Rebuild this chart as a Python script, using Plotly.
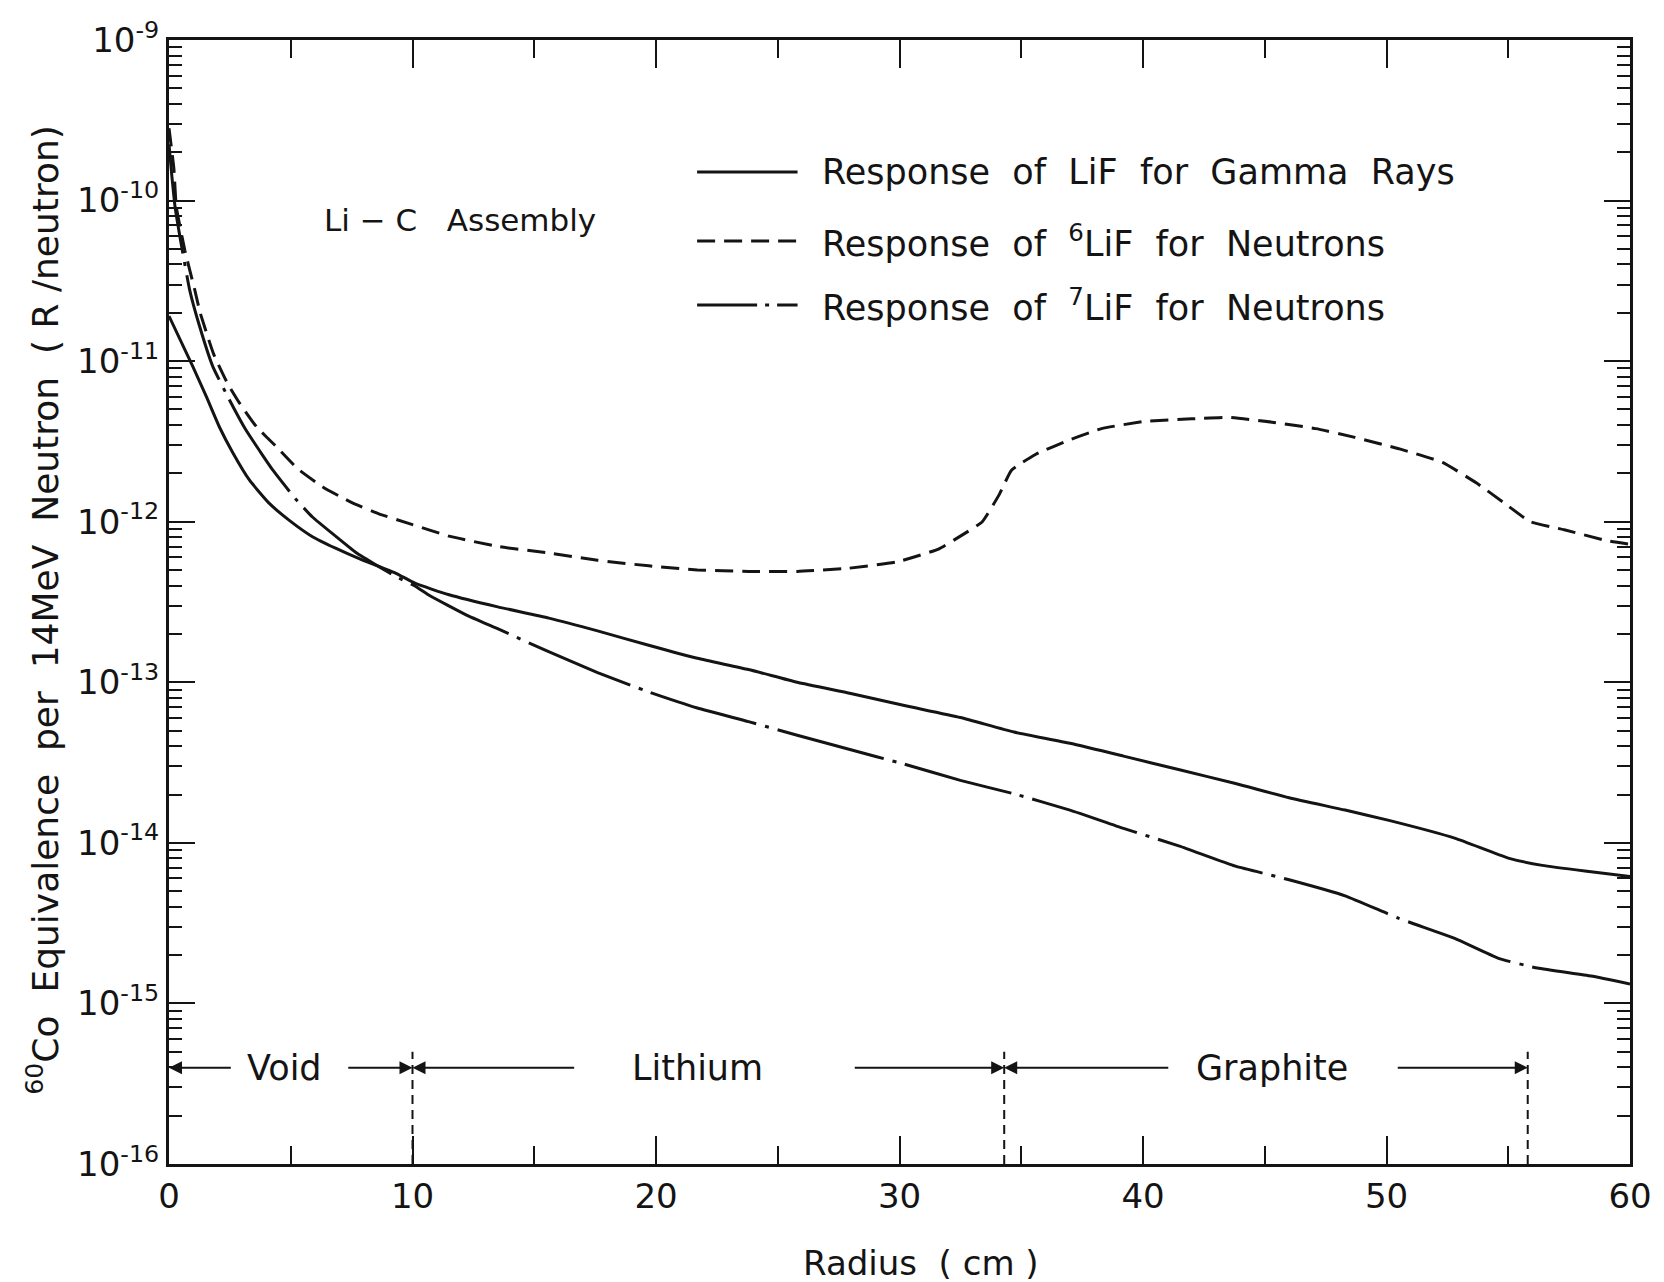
import plotly.graph_objects as go

# ---------------- data ----------------
radius_gamma = [0, 0.98, 1.53, 2.07, 2.62, 3.30, 4.12, 4.94, 5.89, 6.84, 7.93, 9.30, 10.1,
                11.5, 13.5, 15.6, 17.6, 19.7, 21.7, 23.8, 25.8, 28.0, 30.2, 32.5, 34.7, 37.0,
                39.2, 41.5, 43.8, 46.0, 48.3, 50.1, 52.8, 55.0, 56.4, 58.4, 60]
resp_gamma = [1.91e-11, 9.25e-12, 6.03e-12, 3.89e-12, 2.69e-12, 1.82e-12, 1.30e-12, 1.02e-12,
              8.07e-13, 6.84e-13, 5.78e-13, 4.79e-13, 4.14e-13, 3.51e-13, 2.95e-13,
              2.51e-13, 2.09e-13, 1.70e-13, 1.41e-13, 1.20e-13, 1.00e-13, 8.51e-14, 7.16e-14,
              6.03e-14, 4.90e-14, 4.17e-14, 3.47e-14, 2.85e-14, 2.34e-14, 1.91e-14, 1.60e-14,
              1.38e-14, 1.07e-14, 8.04e-15, 7.24e-15, 6.61e-15, 6.17e-15]

radius_li6 = [0, 0.2, 0.3, 0.65, 1.06, 1.28, 1.83, 2.41, 2.89, 3.60, 4.39, 5.28, 6.33, 7.49,
              8.62, 9.84, 11.5, 13.54, 15.59, 17.6, 19.7, 21.7, 23.8, 25.8,
              27.9, 29.9, 31.6, 32.5, 33.4, 34.1, 34.6, 35.6, 37.0, 38.3, 40.1, 42.0, 43.5,
              45.3, 47.1, 48.7, 50.5, 52.3, 53.7, 54.8, 55.9, 57.3, 59.1, 60]
resp_li6 = [2.82e-10, 1.58e-10, 9.12e-11, 4.90e-11, 2.77e-11, 2.00e-11, 1.11e-11, 7.24e-12,
            5.50e-12, 3.89e-12, 2.95e-12, 2.14e-12, 1.64e-12, 1.32e-12, 1.12e-12, 9.77e-13,
            8.13e-13, 7.00e-13, 6.38e-13, 5.75e-13, 5.31e-13,
            5.01e-13, 4.90e-13, 4.90e-13, 5.13e-13, 5.62e-13, 6.76e-13, 8.13e-13, 1.00e-12,
            1.48e-12, 2.09e-12, 2.63e-12, 3.24e-12, 3.80e-12, 4.22e-12, 4.37e-12, 4.47e-12,
            4.17e-12, 3.80e-12, 3.35e-12, 2.85e-12, 2.34e-12, 1.74e-12, 1.32e-12, 1.00e-12,
            8.91e-13, 7.59e-13, 7.24e-13]

radius_li7 = [0, 0.12, 0.25, 0.57, 0.85, 1.25, 1.80, 2.48, 3.16, 3.84, 4.25, 5.21, 5.89, 6.84,
              7.66, 8.62, 9.30, 10.1, 10.7, 12.2,
              13.54, 15.59, 17.6, 19.7, 21.7, 23.8, 25.8, 28.0, 30.2, 32.5, 34.7, 37.0, 39.2,
              41.5, 43.8, 46.0, 48.3, 50.5, 52.8, 54.6, 56.2, 58.4, 60]
resp_li7 = [2.24e-10, 1.41e-10, 9.12e-11, 4.68e-11, 2.77e-11, 1.66e-11, 9.25e-12, 5.75e-12,
            3.72e-12, 2.60e-12, 2.11e-12, 1.38e-12, 1.07e-12, 8.13e-13, 6.46e-13, 5.25e-13,
            4.57e-13, 3.98e-13, 3.47e-13, 2.63e-13, 2.14e-13, 1.55e-13,
            1.15e-13, 8.71e-14, 6.92e-14, 5.69e-14, 4.68e-14, 3.80e-14, 3.09e-14, 2.45e-14,
            2.02e-14, 1.60e-14, 1.23e-14, 9.55e-15, 7.16e-15, 5.89e-15, 4.68e-15, 3.39e-15,
            2.54e-15, 1.91e-15, 1.66e-15, 1.48e-15, 1.32e-15]

legend_labels = ["Response  of  LiF  for  Gamma  Rays",
                 "Response  of  <sup>6</sup>LiF  for  Neutrons",
                 "Response  of  <sup>7</sup>LiF  for  Neutrons"]

region_bounds = [0, 10, 34.3, 55.8]
region_names = ["Void", "Lithium", "Graphite"]
region_label_x = [4.75, 21.7, 45.3]
region_gap = [(2.6, 7.3), (16.7, 28.1), (41.1, 50.4)]
region_level_log = -15.4
boundary_top = 5.0e-16
x_ticks = [0, 10, 20, 30, 40, 50, 60]
y_decades = [-16, -15, -14, -13, -12, -11, -10, -9]

# ---------------- figure ----------------
INK = "#141414"
FONT = "DejaVu Sans"
dash_li6 = "18px,9px"
dash_li7 = "110px,9px,4px,9px"

fig = go.Figure()

fig.add_trace(go.Scatter(x=radius_gamma, y=resp_gamma, mode="lines", showlegend=False,
                         line=dict(color=INK, width=3, shape="spline", smoothing=0.5)))
fig.add_trace(go.Scatter(x=radius_li6, y=resp_li6, mode="lines", showlegend=False,
                         line=dict(color=INK, width=3, dash=dash_li6, shape="spline", smoothing=0.4)))
fig.add_trace(go.Scatter(x=radius_li7, y=resp_li7, mode="lines", showlegend=False,
                         line=dict(color=INK, width=3, dash=dash_li7, shape="spline", smoothing=0.4)))

# region boundary dashed verticals
for b in region_bounds[1:]:
    fig.add_trace(go.Scatter(x=[b, b], y=[1e-16, boundary_top], mode="lines", showlegend=False,
                             line=dict(color=INK, width=2, dash="9px,6px")))

annotations = []
# region arrows and labels
for i, name in enumerate(region_names):
    left, right = region_bounds[i], region_bounds[i + 1]
    g0, g1 = region_gap[i]
    annotations.append(dict(x=left, y=region_level_log, ax=g0, ay=region_level_log,
                            xref="x", yref="y", axref="x", ayref="y", text="",
                            showarrow=True, arrowhead=2, arrowsize=1.3, arrowwidth=2,
                            arrowcolor=INK, standoff=0))
    annotations.append(dict(x=right, y=region_level_log, ax=g1, ay=region_level_log,
                            xref="x", yref="y", axref="x", ayref="y", text="",
                            showarrow=True, arrowhead=2, arrowsize=1.3, arrowwidth=2,
                            arrowcolor=INK, standoff=0))
    annotations.append(dict(x=region_label_x[i], y=region_level_log, xref="x", yref="y",
                            text=name, showarrow=False, xanchor="center", yanchor="middle",
                            font=dict(family=FONT, size=35, color=INK)))

# plot geometry (px) used for paper-placed decorations
L, R, T, B = 169, 1638, 40, 1164
W, H = R - L, B - T


def px(X):
    return (X - L) / W


def py(Y):
    return (B - Y) / H


shapes = []
leg_y = [172, 241, 305]
leg_dash = ["solid", dash_li6, "60px,8px,4px,8px"]
for i in range(3):
    shapes.append(dict(type="line", xref="paper", yref="paper", x0=px(700), x1=px(801),
                       y0=py(leg_y[i]), y1=py(leg_y[i]),
                       line=dict(color=INK, width=3, dash=leg_dash[i])))
    annotations.append(dict(x=px(824), y=py(leg_y[i]), xref="paper", yref="paper",
                            text=legend_labels[i], showarrow=False, xanchor="left",
                            yanchor="middle", font=dict(family=FONT, size=35, color=INK)))

annotations.append(dict(x=px(462), y=py(220), xref="paper", yref="paper",
                        text="Li − C   Assembly", showarrow=False, xanchor="center",
                        yanchor="middle", font=dict(family=FONT, size=31, color=INK)))

annotations.append(dict(x=px(42), y=py(610), xref="paper", yref="paper", textangle=-90,
                        text="<sup>60</sup>Co  Equivalence  per  14MeV  Neutron  ( R /neutron)",
                        showarrow=False, xanchor="center", yanchor="middle",
                        font=dict(family=FONT, size=36, color=INK)))
annotations.append(dict(x=px(925), y=py(1263), xref="paper", yref="paper",
                        text="Radius  ( cm )", showarrow=False, xanchor="center",
                        yanchor="middle", font=dict(family=FONT, size=34, color=INK)))

minor_y = [k * 10.0 ** e for e in y_decades[:-1] for k in range(2, 10)]

fig.update_layout(
    width=1664, height=1282, autosize=False,
    margin=dict(l=L, r=1664 - R, t=T, b=1282 - B, pad=0),
    paper_bgcolor="white", plot_bgcolor="white",
    showlegend=False,
    annotations=annotations, shapes=shapes,
    xaxis=dict(range=[0, 60], tickmode="array", tickvals=x_ticks,
               ticktext=[str(v) for v in x_ticks],
               ticks="inside", ticklen=28, tickwidth=2, tickcolor=INK,
               minor=dict(tickmode="array", tickvals=[5, 15, 25, 35, 45, 55],
                          ticks="inside", ticklen=18, tickwidth=2, tickcolor=INK),
               showline=True, linecolor=INK, linewidth=3, mirror="allticks",
               showgrid=False, zeroline=False,
               tickfont=dict(family=FONT, size=34, color=INK)),
    yaxis=dict(type="log", range=[-16, -9], tickmode="array",
               tickvals=[10.0 ** e for e in y_decades],
               ticktext=["10<sup>%d</sup>" % e for e in y_decades],
               ticks="inside", ticklen=26, tickwidth=2, tickcolor=INK,
               minor=dict(tickmode="array", tickvals=minor_y, ticks="inside",
                          ticklen=13, tickwidth=2, tickcolor=INK),
               showline=True, linecolor=INK, linewidth=3, mirror="allticks",
               showgrid=False, zeroline=False,
               tickfont=dict(family=FONT, size=34, color=INK)),
)

fig.write_html("out.html")
